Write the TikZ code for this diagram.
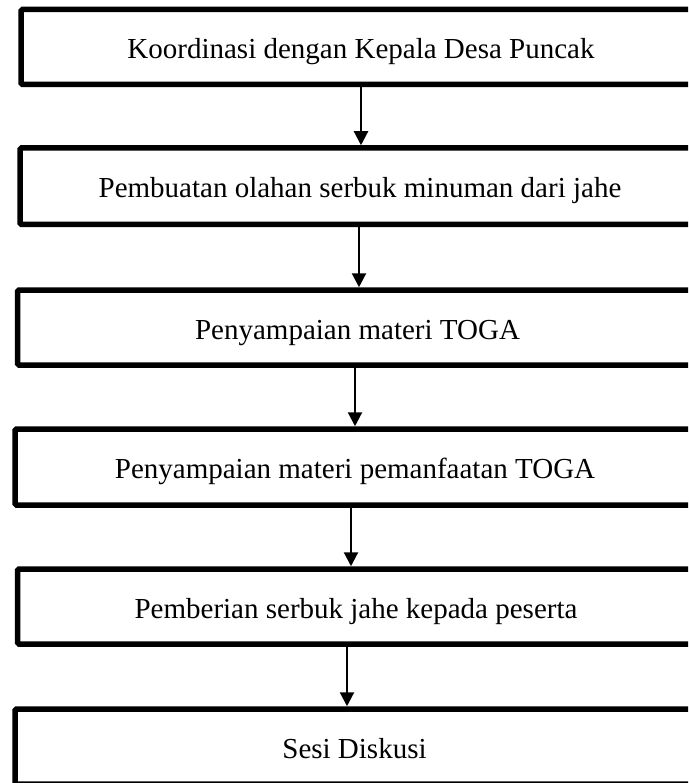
\documentclass[tikz,border=0pt]{standalone}
\usepackage{fontspec}
\setmainfont{Liberation Serif}
\usetikzlibrary{arrows.meta}
\begin{document}
\begin{tikzpicture}[x=1pt,y=-1pt,
  stepbox/.style={draw=black, line width=5.5pt, rounded corners=1.5pt, fill=white,
    inner sep=0pt, text height=23pt, text depth=0pt,
    font=\fontsize{29}{34}\selectfont},
  arr/.style={line width=2.2pt, -{Triangle[width=14pt,length=14pt]}}]
\useasboundingbox (0,0) rectangle (688,783);
\clip (0,0) rectangle (688,783);
\fill[white] (0,0) rectangle (688,783);
\node[stepbox, minimum width=680pt, minimum height=75pt] (b1) at (361,47) {Koordinasi dengan Kepala Desa Puncak};
\node[stepbox, minimum width=680pt, minimum height=76.5pt] (b2) at (360,186.25) {Pembuatan olahan serbuk minuman dari jahe};
\node[stepbox, minimum width=680pt, minimum height=75pt] (b3) at (357.5,327.5) {Penyampaian materi TOGA};
\node[stepbox, minimum width=680pt, minimum height=76pt] (b4) at (355,467) {Penyampaian materi pemanfaatan TOGA};
\node[stepbox, minimum width=677pt, minimum height=75pt] (b5) at (356,606.5) {Pemberian serbuk jahe kepada peserta};
\node[stepbox, minimum width=679pt, minimum height=75pt] (b6) at (354.5,746.5) {Sesi Diskusi};
\draw[arr] ([xshift=0pt]b1.south) -- ([xshift=1pt]b2.north);
\draw[arr] ([xshift=-1pt]b2.south) -- ([xshift=1.5pt]b3.north);
\draw[arr] ([xshift=-2.5pt]b3.south) -- (b4.north);
\draw[arr] ([xshift=-4pt]b4.south) -- ([xshift=-5pt]b5.north);
\draw[arr] ([xshift=-9pt]b5.south) -- ([xshift=-7.5pt]b6.north);
\end{tikzpicture}
\end{document}
